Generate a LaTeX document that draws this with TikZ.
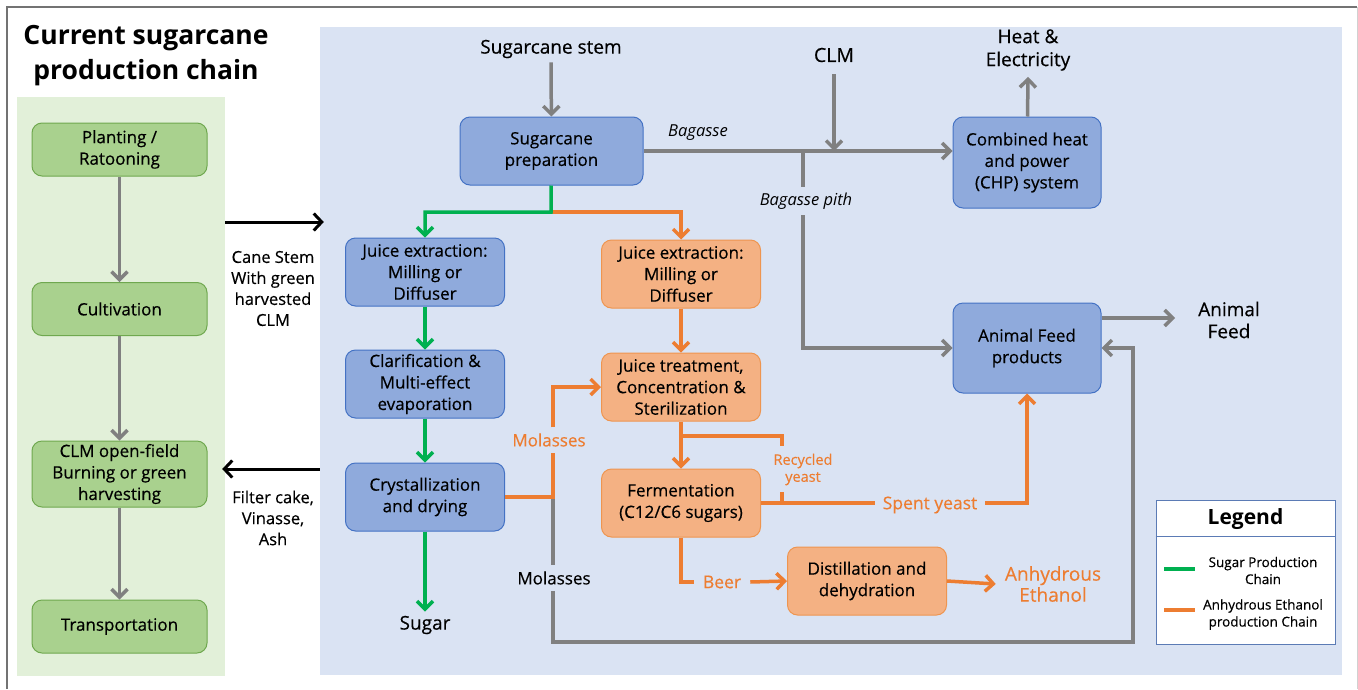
\documentclass[tikz,border=0pt]{standalone}
\usepackage{fontspec}
\setmainfont{Open Sans}
\newfontfamily\semifont{Open Sans}[FakeBold=0.4]
\usetikzlibrary{arrows.meta}
\definecolor{panelblue}{HTML}{DAE3F3}
\definecolor{panelgreen}{HTML}{E2F0D9}
\definecolor{boxgreen}{HTML}{A9D18E}
\definecolor{boxgreenline}{HTML}{6FA84F}
\definecolor{boxblue}{HTML}{8FAADC}
\definecolor{boxblueline}{HTML}{4472C4}
\definecolor{boxorange}{HTML}{F4B183}
\definecolor{boxorangeline}{HTML}{EE9550}
\definecolor{linegreen}{HTML}{00B050}
\definecolor{lineorange}{HTML}{ED7D31}
\definecolor{linegray}{HTML}{808080}
\definecolor{legendline}{HTML}{5B7BB5}
\begin{document}
\begin{tikzpicture}[x=1pt,y=-1pt,
  boxtext/.style={font=\semifont\fontsize{17}{21.5}\selectfont, align=center, text=black},
  procbox/.style={boxtext, rounded corners=10pt, line width=1pt, inner sep=0pt,
    minimum width=159pt, minimum height=68pt},
  greenbox/.style={procbox, fill=boxgreen, draw=boxgreenline, minimum width=175pt, minimum height=53pt},
  bluebox/.style={procbox, fill=boxblue, draw=boxblueline},
  orangebox/.style={procbox, fill=boxorange, draw=boxorangeline},
  lbl/.style={font=\semifont\fontsize{19}{22.5}\selectfont, align=center, inner sep=4pt},
  smalllbl/.style={font=\semifont\fontsize{16.5}{21}\selectfont, align=center, inner sep=4pt},
  olbl/.style={lbl, text=lineorange},
  barb/.tip={Straight Barb[length=8pt,width=16pt]},
  gline/.style={draw=linegray, line width=3.5pt},
  garr/.style={gline, -barb},
  sline/.style={draw=linegreen, line width=3.5pt},
  sarr/.style={sline, -barb},
  oline/.style={draw=lineorange, line width=3.5pt},
  oarr/.style={oline, -barb},
  karr/.style={draw=black, line width=3pt, -{Straight Barb[length=8pt,width=17pt]}}
]
\useasboundingbox (0,0) rectangle (1358,689);
\fill[white] (0,0) rectangle (1358,689);

% outer frame
\draw[linegray!90!black, line width=2pt] (7,689) -- (7,7) -- (1357,7);
\draw[black!18, line width=1pt] (1357,7) -- (1357,689);

% title
\node[font=\fontsize{26.5}{35}\selectfont\bfseries, align=center] (title) at (146,56)
  {Current sugarcane\\production chain};

% panels
\node[fill=panelgreen, inner sep=0pt, minimum width=208pt, minimum height=579pt] (gpanel) at (121,386.5) {};
\node[fill=panelblue, inner sep=0pt, minimum width=1022pt, minimum height=648pt] (bpanel) at (831,351) {};

% field chain
\node[greenbox] (plant) at (119.5,149.5) {Planting /\\Ratooning};
\node[greenbox] (cult)  at (119.5,309) {Cultivation};
\node[greenbox, minimum height=66pt] (burn) at (119.5,474) {CLM open-field\\Burning or green\\harvesting};
\node[greenbox] (trans) at (119.5,626.5) {Transportation};
\draw[garr] (plant) -- (cult);
\draw[garr] (cult) -- (burn);
\draw[garr] (burn) -- (trans);

% exchange between field and mill
\coordinate (inrow) at (273,222);
\coordinate (outrow) at (273,469);
\node[smalllbl] (canelbl) at (273,288.5) {Cane Stem\\With green\\harvested\\CLM};
\node[smalllbl] (filterlbl) at (273,518) {Filter cake,\\Vinasse,\\Ash};
\draw[karr] (gpanel.east |- inrow) -- ([xshift=4pt]bpanel.west |- inrow);
\draw[karr] (bpanel.west |- outrow) -- ([xshift=-3pt]gpanel.east |- outrow);

% mill processes
\node[bluebox, minimum width=183pt] (prep) at (551.5,151) {Sugarcane\\preparation};
\node[bluebox] (jeb) at (425,272) {Juice extraction:\\Milling or\\Diffuser};
\node[bluebox] (cla) at (425,384) {Clarification \&\\Multi-effect\\evaporation};
\node[bluebox] (cry) at (425,497) {Crystallization\\and drying};
\node[bluebox, minimum width=148pt, minimum height=91pt] (chp) at (1027,162.5) {Combined heat\\and power\\(CHP) system};
\node[bluebox, minimum width=148pt, minimum height=90pt] (afp) at (1027,348) {Animal Feed\\products};
\node[orangebox] (jeo) at (681,274) {Juice extraction:\\Milling or\\Diffuser};
\node[orangebox] (jt)  at (681,387) {Juice treatment,\\Concentration \&\\Sterilization};
\node[orangebox] (fer) at (681,503) {Fermentation\\(C12/C6 sugars)};
\node[orangebox] (dist) at (867,581) {Distillation and\\dehydration};

% free labels
\node[lbl] (sstem) at (551,49) {Sugarcane stem};
\node[lbl, font=\semifont\fontsize{19.5}{23}\selectfont] (clm) at (834,55) {CLM};
\node[lbl, font=\semifont\fontsize{19}{23}\selectfont] (heat) at (1028,50) {Heat \&\\Electricity};
\node[lbl, font=\fontsize{16.5}{20}\selectfont\itshape] (bag) at (698,133) {Bagasse};
\node[lbl, font=\fontsize{16.5}{20}\selectfont\itshape, inner ysep=6pt] (pith) at (806,201) {Bagasse pith};
\node[lbl, font=\semifont\fontsize{19}{22}\selectfont] (feedlbl) at (1229,320) {Animal\\Feed};
\node[lbl] (sugar) at (425,625) {Sugar};
\node[olbl, font=\semifont\fontsize{17}{20}\selectfont, inner ysep=6pt] (molo) at (549,440) {Molasses};
\node[lbl, font=\semifont\fontsize{17}{20}\selectfont, inner ysep=6pt] (molg) at (554,578) {Molasses};
\node[olbl, font=\semifont\fontsize{14.5}{17}\selectfont] (ry) at (803,469.5) {Recycled\\yeast};
\node[olbl, font=\semifont\fontsize{17.5}{20}\selectfont, inner xsep=8pt] (spent) at (930,505) {Spent yeast};
\node[olbl, font=\semifont\fontsize{17.5}{20}\selectfont, inner xsep=9pt] (beer) at (722,582) {Beer};
\node[olbl, font=\semifont\fontsize{19}{21}\selectfont, inner xsep=9pt] (eth) at (1053,584) {Anhydrous\\Ethanol};

% gray flows
\draw[garr] (sstem) -- (prep);
\draw[garr] (prep.east) -- (prep.east -| chp.west);
\draw[garr] ([yshift=-8pt]clm.south) -- (clm.south |- prep.east);
\draw[garr] (chp) -- ([yshift=-2pt]heat.south);
\coordinate (bp) at (803,151);
\draw[gline] (bp) -- (bp |- pith.north);
\draw[garr] (bp |- pith.south) |- (afp.west);
\coordinate (afout) at (1175,318);
\draw[garr] (afp.east |- afout) -- (afout);
\coordinate (mj) at (553,497);
\coordinate (mb) at (1133,642);
\draw[gline] (mj) -- (mj |- molg.north);
\draw[garr] (mj |- molg.south) -- (mj |- mb) -- (mb) |- (afp.east);

% sugar chain
\coordinate (jprep) at (551,212);
\draw[oarr] (jprep) -| (jeo);
\draw[sarr] (prep) -- (jprep) -| (jeb);
\draw[sarr] (jeb) -- (cla);
\draw[sarr] (cla) -- (cry);
\draw[sarr] (cry) -- (sugar);

% ethanol chain
\draw[oarr] (jeo) -- (jt);
\draw[oarr] (jt) -- (fer);
\draw[oline] (cry.east) -- (mj) -- (mj |- molo.south);
\draw[oarr] (mj |- molo.north) |- (jt.west);
\coordinate (ryt) at (782,436);
\coordinate (ryb) at (782,492);
\draw[oline] (ryt -| jt.south) -- (ryt) -- ++(0,10);
\draw[oline] (ryb) -- (ryb |- fer.east);
\draw[oline] (fer.east) -- (spent.west |- fer.east);
\draw[oarr] (spent.east |- fer.east) -| (afp.south);
\draw[oline] (fer.south) |- (beer.west);
\draw[oarr] (beer.east) -- (dist.west);
\draw[oarr] (dist.east) -- (eth.west);

% legend
\node[fill=white, draw=legendline, line width=1pt, inner sep=0pt, minimum width=179pt, minimum height=144pt] (leg) at (1245.5,572) {};
\coordinate (legsplit) at (1245.5,536);
\draw[legendline, line width=1pt] (leg.west |- legsplit) -- (leg.east |- legsplit);
\node[font=\fontsize{21}{24}\selectfont\bfseries] (legtitle) at (1245.5,519) {Legend};
\node[font=\semifont\fontsize{13.5}{17}\selectfont, align=center] (legs) at (1263,570.5) {Sugar Production\\Chain};
\node[font=\semifont\fontsize{13.5}{17}\selectfont, align=center] (lego) at (1263,614.5) {Anhydrous Ethanol\\production Chain};
\coordinate (lgs) at (1164,569);
\coordinate (lgo) at (1164,610);
\draw[linegreen, line width=3.5pt] (lgs) -- ++(31,0);
\draw[lineorange, line width=3.5pt] (lgo) -- ++(31,0);
\end{tikzpicture}
\end{document}
